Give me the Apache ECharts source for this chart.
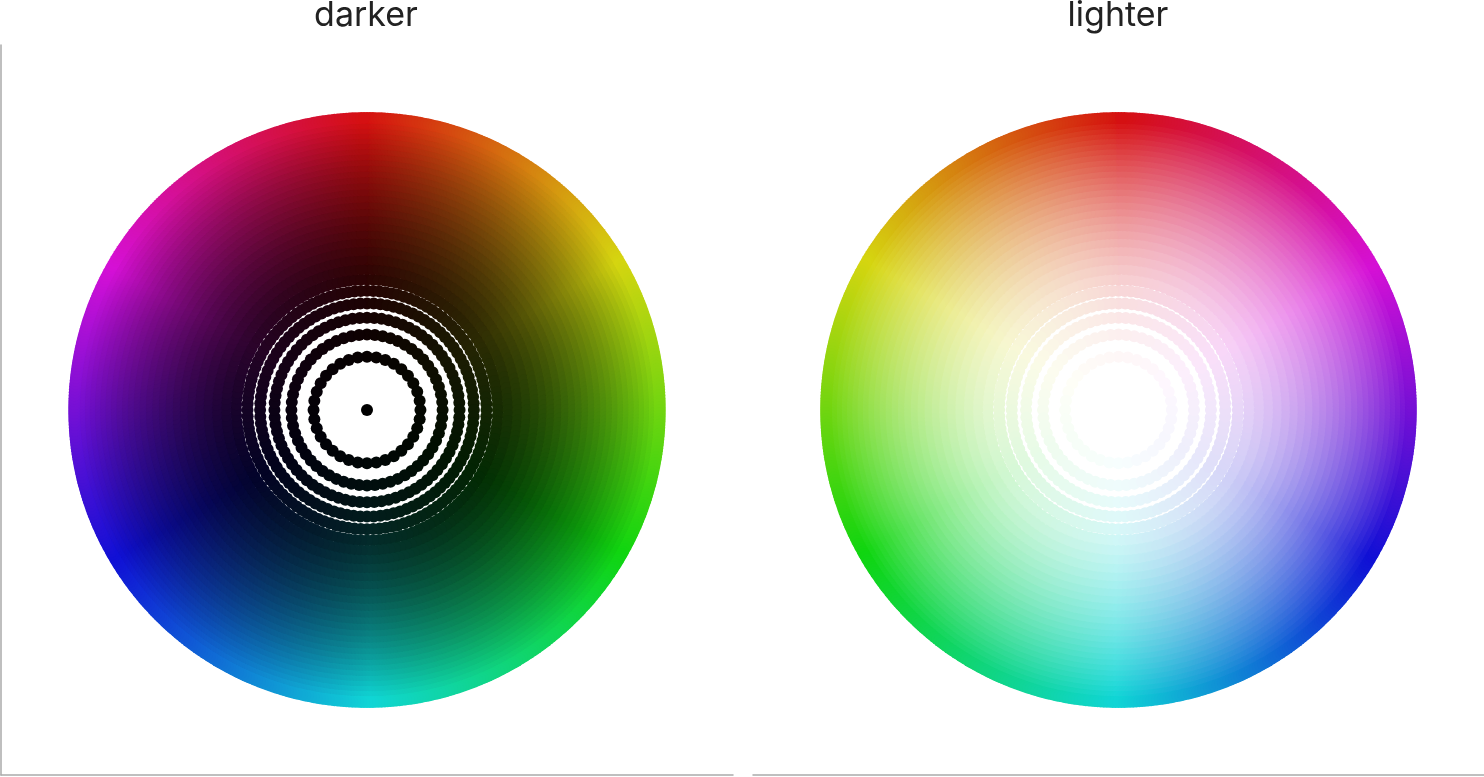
<!DOCTYPE html>
<html>
<head>
<meta charset="utf-8">
<script src="https://cdn.jsdelivr.net/npm/echarts@6/dist/echarts.min.js"></script>
<style>
html,body{margin:0;padding:0;background:#fff;}
#main{width:1484px;height:777px;}
</style>
</head>
<body>
<div id="main"></div>
<script>
// Panel titles
const titles = ['darker', 'lighter'];
// Ring radii (data units, outer ring = 1)
const ringRadius = [0, 0.1826, 0.2582, 0.3162, 0.3651, 0.4082, 0.4472, 0.4830, 0.5164, 0.5477,
  0.5774, 0.6055, 0.6325, 0.6583, 0.6831, 0.7071, 0.7303, 0.7528, 0.7746, 0.7958,
  0.8165, 0.8367, 0.8563, 0.8756, 0.8944, 0.9129, 0.9309, 0.9487, 0.9661, 0.9832, 1.0];
// Colour strength per ring (0 = centre: black / white, 1 = edge: full hue)
const ringLevel = [0, 0.033, 0.067, 0.1, 0.133, 0.167, 0.2, 0.233, 0.267, 0.3,
  0.333, 0.367, 0.4, 0.433, 0.467, 0.5, 0.533, 0.567, 0.6, 0.633,
  0.667, 0.7, 0.733, 0.767, 0.8, 0.833, 0.867, 0.9, 0.933, 0.967, 1.0];
// Points sampled on each ring
const ringPoints = [1, 36, 60, 80, 100, 120, 140, 160, 180, 200,
  220, 240, 260, 280, 300, 320, 340, 360, 380, 400,
  420, 440, 460, 480, 500, 520, 540, 560, 580, 600, 620];

function hslToRgb(h, s, l) {
  const c = (1 - Math.abs(2 * l - 1)) * s;
  const hp = (h % 360) / 60;
  const x = c * (1 - Math.abs(hp % 2 - 1));
  let r = 0, g = 0, b = 0;
  if (hp < 1) { r = c; g = x; }
  else if (hp < 2) { r = x; g = c; }
  else if (hp < 3) { g = c; b = x; }
  else if (hp < 4) { g = x; b = c; }
  else if (hp < 5) { r = x; b = c; }
  else { r = c; b = x; }
  const m = l - c / 2;
  return [(r + m) * 255, (g + m) * 255, (b + m) * 255];
}

function build(mode) {
  const pts = [], cols = [];
  for (let k = 0; k < ringRadius.length; k++) {
    const r = ringRadius[k], lv = ringLevel[k], n = ringPoints[k];
    for (let j = 0; j < n; j++) {
      const deg = 360 * j / n;
      const a = deg * Math.PI / 180;
      const sx = mode === 'darker' ? 1 : -1;
      pts.push([sx * r * Math.sin(a), r * Math.cos(a)]);
      const base = hslToRgb(deg, 0.86, 0.45);
      let c;
      if (mode === 'darker') c = base.map(v => Math.round(v * lv));
      else c = base.map(v => Math.round(v + (255 - v) * (1 - lv)));
      cols.push('rgb(' + c.join(',') + ')');
    }
  }
  return { pts, cols };
}

const sets = titles.map(build);
const chart = echarts.init(document.getElementById('main'), null, { renderer: 'canvas' });

const grids = [
  { left: 1, top: 45, width: 732, bottom: 2 },
  { left: 753, top: 45, width: 731, bottom: 2 }
];
const axisLine = { show: true, onZero: false, lineStyle: { color: '#aaa', width: 1.5 } };

chart.setOption({
  animation: false,
  backgroundColor: '#fff',
  title: titles.map((t, i) => ({
    text: t,
    left: i === 0 ? 361 : 1113,
    textAlign: 'center',
    top: -6,
    textStyle: { fontFamily: 'Inter, "Noto Sans", sans-serif', fontWeight: 'normal', fontSize: 34, color: '#222' }
  })),
  grid: grids,
  xAxis: titles.map((t, i) => ({
    type: 'value', gridIndex: i, min: -1.25, max: 1.25,
    axisLine: axisLine, axisTick: { show: false }, axisLabel: { show: false }, splitLine: { show: false }
  })),
  yAxis: titles.map((t, i) => ({
    type: 'value', gridIndex: i, min: -1.25, max: 1.25,
    axisLine: Object.assign({}, axisLine, { show: i === 0 }),
    axisTick: { show: false }, axisLabel: { show: false }, splitLine: { show: false }
  })),
  series: titles.map((t, i) => ({
    type: 'scatter',
    name: t,
    xAxisIndex: i,
    yAxisIndex: i,
    data: sets[i].pts,
    symbolSize: 12,
    silent: true,
    progressive: 0,
    large: false,
    itemStyle: { color: p => sets[i].cols[p.dataIndex], opacity: 1 },
    emphasis: { disabled: true }
  }))
});
</script>
</body>
</html>
